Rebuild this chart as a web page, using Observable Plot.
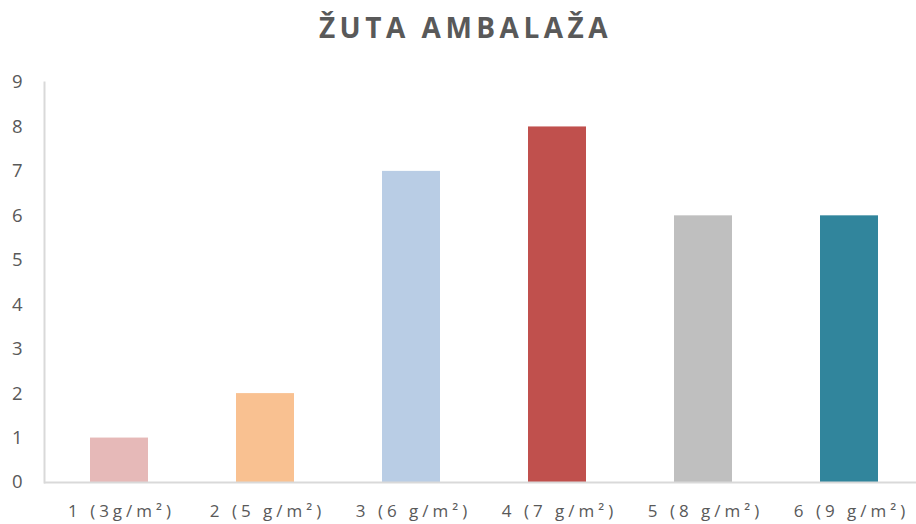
<!DOCTYPE html>
<html>
<head>
<meta charset="utf-8">
<script src="https://cdn.jsdelivr.net/npm/d3@7"></script>
<script src="https://cdn.jsdelivr.net/npm/@observablehq/plot@0.6"></script>
<style>
  html, body { margin: 0; padding: 0; background: #fff; overflow: hidden; }
  #chart svg { display: block; font-family: "Open Sans", sans-serif; }
  #chart g[aria-label="x-axis tick label"] text { letter-spacing: 4px; }
  #chart g[aria-label="text"] text { letter-spacing: 4.5px; }
</style>
</head>
<body>
<div id="chart"></div>
<script>
const title = "ŽUTA AMBALAŽA";
const categories = ["1 (3g/m²)", "2 (5 g/m²)", "3 (6 g/m²)", "4 (7 g/m²)", "5 (8 g/m²)", "6 (9 g/m²)"];
const values = [1, 2, 7, 8, 6, 6];
const colors = ["#E6B9B8", "#F9C191", "#B9CDE5", "#C0504D", "#BFBFBF", "#31859C"];
const yTicks = [0, 1, 2, 3, 4, 5, 6, 7, 8, 9];

const data = categories.map((c, i) => ({ cat: c, value: values[i], color: colors[i] }));

const chart = Plot.plot({
  width: 916,
  height: 524,
  marginTop: 82,
  marginBottom: 42,
  marginLeft: 44,
  marginRight: 0,
  style: { fontFamily: "Open Sans, sans-serif", color: "#595959", background: "#fff" },
  x: { domain: categories, range: [44, 924], paddingInner: 0.6, paddingOuter: 0.3, label: null },
  y: { domain: [0, 9], label: null },
  marks: [
    Plot.barY(data, { x: "cat", y: "value", fill: "color" }),
    Plot.frame({ anchor: "left", stroke: "#D9D9D9", strokeWidth: 2 }),
    Plot.ruleY([0], { stroke: "#D9D9D9", strokeWidth: 2 }),
    Plot.axisY({ ticks: yTicks, tickSize: 0, tickPadding: 22, fontSize: 18.5, fill: "#595959", label: null }),
    Plot.axisX({ tickSize: 0, tickPadding: 22, fontSize: 17, fill: "#595959", label: null, dx: 2 }),
    Plot.text([title], { frameAnchor: "top", dy: -64, dx: -15, fontSize: 28, fontWeight: "bold", fill: "#595959", text: d => d })
  ]
});
document.getElementById("chart").append(chart);
</script>
</body>
</html>
